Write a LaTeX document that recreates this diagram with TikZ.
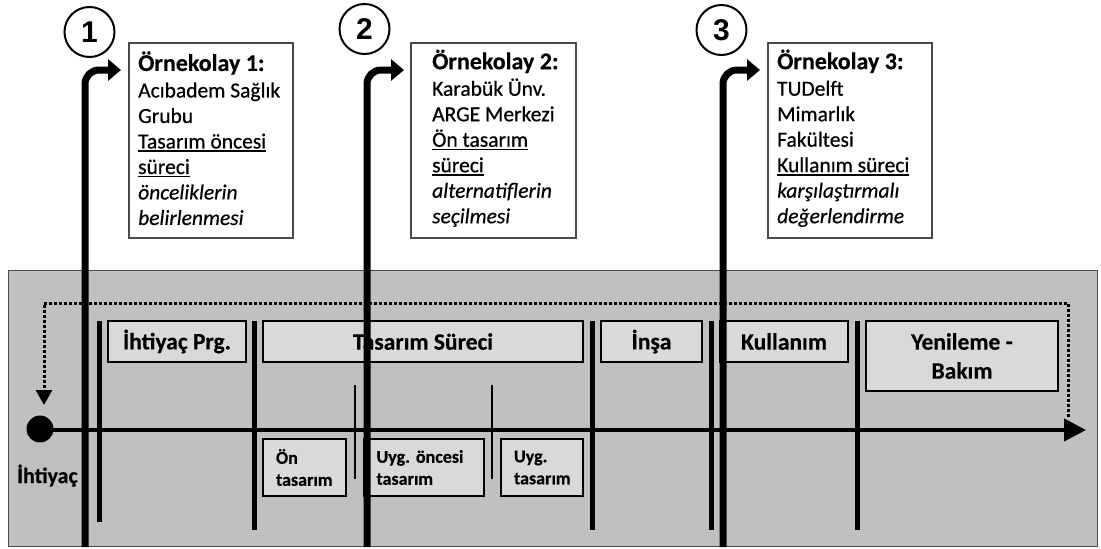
\documentclass[tikz,border=0pt]{standalone}
\usepackage{fontspec}
\setmainfont{Carlito}[
  UprightFeatures={FakeBold=0.6},
  ItalicFeatures={FakeBold=0.5},
  BoldFeatures={FakeBold=0.4}]
\newfontfamily\numfont{Liberation Sans}
\usetikzlibrary{arrows.meta}
\frenchspacing

\definecolor{panelgray}{HTML}{C0C0C0}
\definecolor{phasegray}{HTML}{D9D9D9}
\definecolor{rimgray}{HTML}{4A4A4A}

% underline sitting close under the baseline
\newcommand\ulin[1]{\setbox0=\hbox{#1}\rlap{\rule[-3.4pt]{\wd0}{1.5pt}}\box0}
% larger bold heading of a case study box
\newcommand\casehead[1]{{\fontsize{24}{25.5}\selectfont\bfseries #1}}

\begin{document}
\begin{tikzpicture}[x=1pt,y=-1pt,
  panel/.style={draw=rimgray,line width=1.3pt,fill=panelgray,inner sep=0pt},
  loopline/.style={line width=3pt,dash pattern=on 3pt off 2pt,-{Triangle[length=15pt,width=16pt]}},
  timeline/.style={line width=4pt,-{Triangle[length=22pt,width=22pt]}},
  startdot/.style={circle,fill=black,minimum size=27pt,inner sep=0pt},
  sep/.style={line width=5pt},
  subsep/.style={line width=2.7pt},
  phase/.style={draw=black,line width=2pt,fill=phasegray,inner sep=0pt,minimum height=41pt,
    font=\fontsize{23.5}{28}\selectfont\bfseries,align=center},
  subphase/.style={draw=black,line width=2pt,fill=phasegray,inner xsep=13pt,inner ysep=0pt,
    minimum height=57pt,font=\fontsize{18}{22}\selectfont\bfseries,align=left},
  bigarrow/.style={line width=7pt,rounded corners=14pt,-{Triangle[length=13pt,width=21pt]}},
  casebox/.style={draw=rimgray,line width=1.5pt,fill=white,inner sep=0pt,
    minimum width=164pt,minimum height=195pt},
  casetext/.style={inner sep=0pt,align=left,font=\fontsize{21.5}{25.5}\selectfont},
  numcircle/.style={circle,draw=black,line width=2pt,fill=white,minimum size=50pt,inner sep=0pt,
    font=\numfont\bfseries\fontsize{30}{32}\selectfont},
  lbl/.style={inner sep=0pt,font=\fontsize{22}{26}\selectfont\bfseries}
]
\useasboundingbox (0,0) rectangle (1101,549);

% grey life-cycle panel
\node[panel,anchor=north west,minimum width=1089pt,minimum height=276pt] (panel) at (8,270) {};

% feedback loop from the end of the cycle back to the start
\coordinate (loopA) at (1068,417);
\coordinate (loopB) at (44,405);
\draw[loopline] (loopA) -- (1068,303) -- (44,303) -- (loopB);

% time axis
\node[startdot] (start) at (40,429) {};
\coordinate (axisend) at (1086,430);
\draw[timeline] (start.center |- axisend) -- (axisend);
\node[lbl,anchor=base west] (startlbl) at (17,483) {İhtiyaç};

% phase separators
\draw[sep] (99,321) -- (99,522);
\draw[sep] (254,321) -- (254,530);
\draw[sep] (592,321) -- (592,530);
\draw[sep] (711,321) -- (711,530);
\draw[sep] (857,321) -- (857,530);
\draw[subsep] (355,385) -- (355,479);
\draw[subsep] (492,385) -- (492,479);

% phases
\node[phase,minimum width=138pt] (prg) at (177,341.5) {İhtiyaç Prg.};
\node[phase,minimum width=320pt] (design) at (423,341.5) {Tasarım Süreci};
\node[phase,minimum width=101pt] (build) at (651.5,341.5) {İnşa};
\node[phase,minimum width=128pt] (use) at (784,341.5) {Kullanım};
\node[phase,minimum width=192pt,minimum height=70pt,font=\fontsize{23.5}{29}\selectfont\bfseries] (renew) at (962,356) {Yenileme -\\Bakım};

% design sub-phases
\node[subphase,text width=57pt] (pre) at (304.5,467.5) {Ön\\tasarım};
\node[subphase,text width=94pt] (preapp) at (423.5,467.5) {Uyg. öncesi\\tasarım};
\node[subphase,text width=56pt] (app) at (542,467.5) {Uyg.\\tasarım};

% case study markers
\coordinate (foot1) at (85,547);
\coordinate (tip1) at (121,70);
\coordinate (foot2) at (367,547);
\coordinate (tip2) at (404,70);
\coordinate (foot3) at (723,547);
\coordinate (tip3) at (760,70);
\draw[bigarrow] (foot1) |- (tip1);
\draw[bigarrow] (foot2) |- (tip2);
\draw[bigarrow] (foot3) |- (tip3);

\node[numcircle] (n1) at (89.5,32) {1};
\node[numcircle] (n2) at (364.5,29) {2};
\node[numcircle] (n3) at (721.5,30) {3};

% case study descriptions
\node[casebox,anchor=north west] (case1) at (128,42) {};
\node[casetext,anchor=west] (txt1) at ([xshift=10pt,yshift=2pt]case1.west)
  {\casehead{Örnekolay 1:}\\[1pt]Acıbadem Sağlık\\Grubu\\\ulin{Tasarım öncesi}\\\ulin{süreci}\\\textit{önceliklerin}\\\textit{belirlenmesi}};
\node[casebox,anchor=north west,minimum width=165pt] (case2) at (410,42) {};
\node[casetext,anchor=west] (txt2) at ([xshift=22pt,yshift=2pt]case2.west)
  {\casehead{Örnekolay 2:}\\[1pt]Karabük Ünv.\\ARGE Merkezi\\\ulin{Ön tasarım}\\\ulin{süreci}\\\textit{alternatiflerin}\\\textit{seçilmesi}};
\node[casebox,anchor=north west] (case3) at (767,42) {};
\node[casetext,anchor=west] (txt3) at ([xshift=10pt,yshift=2pt]case3.west)
  {\casehead{Örnekolay 3:}\\[1pt]TUDelft\\Mimarlık\\Fakültesi\\\ulin{Kullanım süreci}\\\textit{karşılaştırmalı}\\\textit{değerlendirme}};
\end{tikzpicture}
\end{document}
